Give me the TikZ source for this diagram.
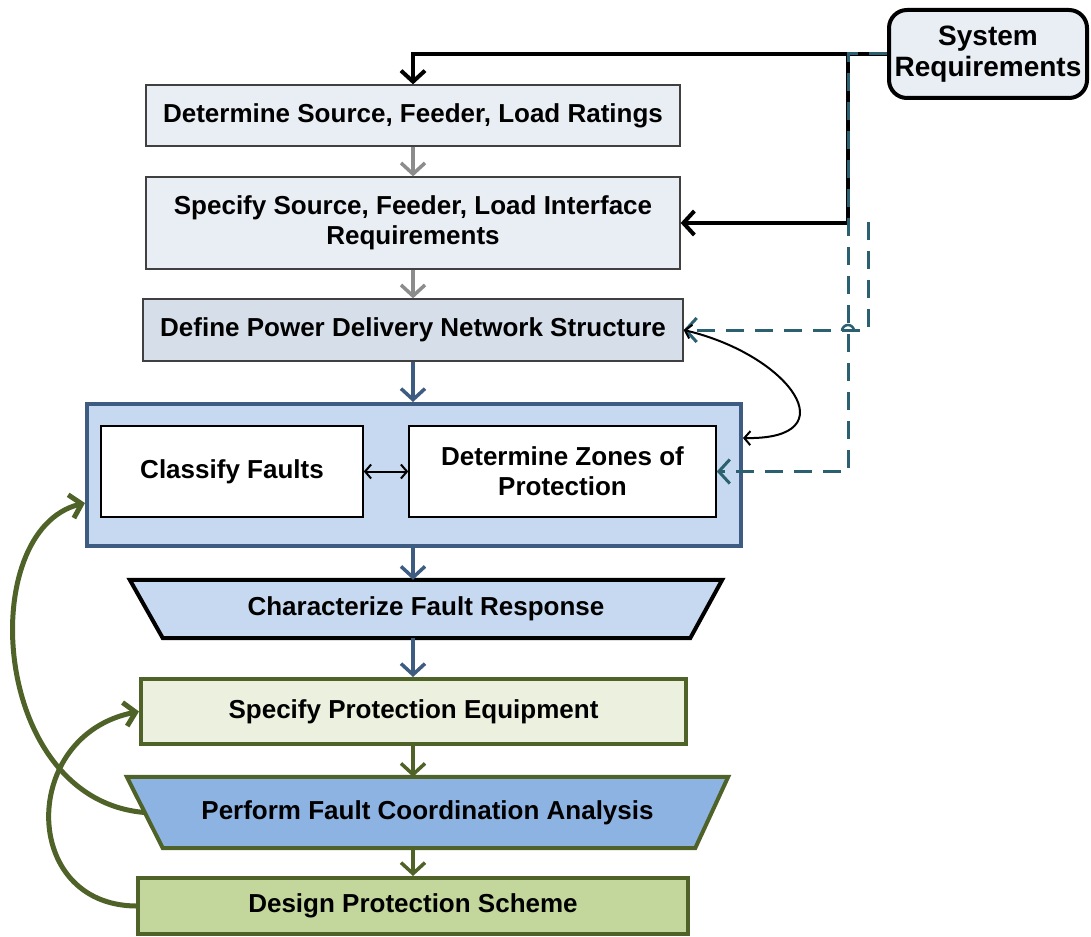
\documentclass[tikz,border=0pt]{standalone}
\usepackage{fontspec}
\setmainfont{Liberation Sans}
\usepackage{tikz}
\usetikzlibrary{arrows.meta,positioning,calc,backgrounds}
\definecolor{paleblue}{HTML}{E9EEF5}
\definecolor{greyblue}{HTML}{D5DEE9}
\definecolor{groupblue}{HTML}{C6D9F0}
\definecolor{navyline}{HTML}{3E5C82}
\definecolor{midblue}{HTML}{8DB3E2}
\definecolor{olive}{HTML}{4F6228}
\definecolor{palegreen}{HTML}{EBF1DE}
\definecolor{sagegreen}{HTML}{C3D69B}
\definecolor{tealdash}{HTML}{2B6070}
\tikzset{
    %Define standard arrow tip
    >={Straight Barb[length=11pt,width=24pt]},
    small tip/.style={>={Straight Barb[length=6pt,width=14pt]}},
    %Define style for boxes
    basebox/.style={
           rectangle,
           inner sep=0pt,
           font=\fontsize{26}{30}\selectfont\bfseries,
           align=center},
    reqbox/.style={
           basebox,
           draw=black!75, line width=1.3pt,
           fill=paleblue,
           minimum width=534pt},
    groupbox/.style={
           basebox,
           draw=navyline, line width=4pt,
           fill=groupblue},
    faultbox/.style={
           basebox,
           draw=black, line width=1.5pt,
           fill=white,
           minimum height=91pt},
    trapfill/.style={
           line width=4pt, line join=miter},
    protbox/.style={
           basebox,
           draw=olive, line width=4pt},
    sysbox/.style={
           basebox,
           font=\fontsize{28}{31}\selectfont\bfseries,
           draw=black, line width=4pt,
           fill=paleblue,
           rounded corners=18pt,
           minimum width=198pt,
           minimum height=88pt},
    % Define arrow styles
    mainflow/.style={->, line width=3.5pt},
    sysline/.style={->, line width=4pt, black},
    dashline/.style={->, line width=3pt, tealdash,
           dash pattern=on 18pt off 11pt},
    loopback/.style={->, line width=5pt, olive},
    thinlink/.style={<->, small tip, line width=2pt, black}
}
\begin{document}
\begin{tikzpicture}[x=1pt,y=-1pt]
\useasboundingbox (0,0) rectangle (1091,936);

 %nodes
\node[sysbox] (sys) at (988,54) {System\\Requirements};
\node[reqbox, minimum height=61pt] (ratings) at (413,115.5)
    {Determine Source, Feeder, Load Ratings};
\node[reqbox, minimum height=92pt] (iface) at (413,223)
    {Specify Source, Feeder, Load Interface\\Requirements};
\node[reqbox, fill=greyblue, minimum width=540pt, minimum height=62pt] (network) at (413,330)
    {Define Power Delivery Network Structure};
\node[groupbox, minimum width=654pt, minimum height=142pt] (group) at (414,475) {};
\node[faultbox, minimum width=262pt] (classify) at (232,471.5) {Classify Faults};
\node[faultbox, minimum width=307pt] (zones) at (562.5,471.5)
    {Determine Zones of\\Protection};
\node[basebox, minimum width=592pt, minimum height=58pt]
      (response) at (426,609) {Characterize Fault Response};
\node[protbox, fill=palegreen, minimum width=545pt, minimum height=65pt]
      (equip) at (413.5,711.5) {Specify Protection Equipment};
\node[basebox, minimum width=601pt, minimum height=71pt]
      (coord) at (427.5,812.5) {Perform Fault Coordination Analysis};
\node[protbox, fill=sagegreen, minimum width=550pt, minimum height=56pt]
      (scheme) at (413,906) {Design Protection Scheme};

 %trapezium outlines
\begin{scope}[on background layer]
\filldraw[trapfill, draw=black, fill=groupblue] (response.north west) -- (response.north east)
    -- ($(response.south east)+(-32,0)$) -- ($(response.south west)+(33,0)$) -- cycle;
\filldraw[trapfill, draw=olive, fill=midblue] (coord.north west) -- (coord.north east)
    -- ($(coord.south east)+(-33,0)$) -- ($(coord.south west)+(36,0)$) -- cycle;
\end{scope}

\coordinate (split) at (848,54);
\coordinate (tap) at (868,222);
\coordinate (coordside) at ($(coord.west)+(18,0)$);

 %main flow
\draw[mainflow, black!45] (ratings) -- (iface);
\draw[mainflow, black!45] (iface) -- (network);
\draw[mainflow, navyline] (network) -- (group.north -| network);
\draw[mainflow, navyline] (group.south -| network) -- (response.north -| network);
\draw[mainflow, navyline] (response.south -| network) -- (equip.north -| network);
\draw[mainflow, olive] (equip.south -| network) -- (coord.north -| network);
\draw[mainflow, olive] (coord.south -| network) -- (scheme.north -| network);

 %system requirements
\draw[sysline] (sys.west) -| (ratings.north);
\draw[sysline] (split) |- (iface.east);
\draw[dashline] (sys.west) -- (split) |- (zones.east);
\draw[dashline] (tap) |- (network.east);
\draw[line width=2.5pt, tealdash] (842,331) arc[start angle=180, end angle=0, radius=6pt];

 %feedback
\draw[thinlink] (classify) -- (zones);
\draw[thinlink] (network.east) .. controls (790,355) and (850,440) .. (group.east |- 0,438);
\draw[loopback] (coordside) .. controls (-10,800) and (-25,530) .. (group.west |- 0,503);
\draw[loopback] (scheme.west) .. controls (20,905) and (20,735) .. (equip.west);

\end{tikzpicture}
\end{document}
